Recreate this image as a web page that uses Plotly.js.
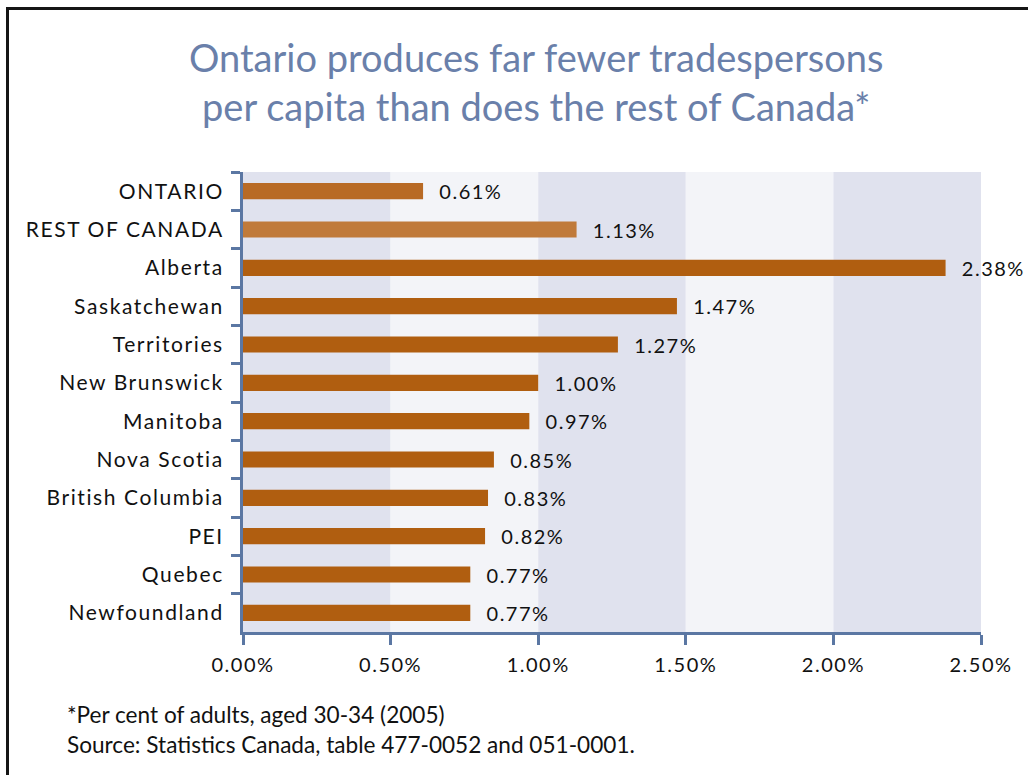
<!DOCTYPE html>
<html>
<head>
<meta charset="utf-8">
<script src="https://cdn.plot.ly/plotly-3.0.1.min.js"></script>
<style>
html,body{margin:0;padding:0;overflow:hidden;background:#fff;}
#chart{position:absolute;left:0;top:0;width:1028px;height:775px;}
#frame{position:absolute;left:6px;top:7px;width:1100px;height:900px;border-top:3px solid #151515;border-left:3px solid #151515;pointer-events:none;}
.ytick text{letter-spacing:1.6px;}
.xtick text{letter-spacing:1.5px;}
.bartext{letter-spacing:1.5px;}
</style>
</head>
<body>
<div id="chart"></div>
<div id="frame"></div>
<script>
const regions = ["ONTARIO","REST OF CANADA","Alberta","Saskatchewan","Territories","New Brunswick","Manitoba","Nova Scotia","British Columbia","PEI","Quebec","Newfoundland"];
const shares = [0.61,1.13,2.38,1.47,1.27,1.00,0.97,0.85,0.83,0.82,0.77,0.77];
const barColors = ["#b86a25","#c07a3a","#b05e10","#b05e10","#b05e10","#b05e10","#b05e10","#b05e10","#b05e10","#b05e10","#b05e10","#b05e10"];
const bandEdges = [0,0.5,1,1.5,2,2.5];
const bandColors = ["#e0e2ee","#f3f4f8","#e0e2ee","#f3f4f8","#e0e2ee"];
const tickVals = [0,0.5,1,1.5,2,2.5];
const titleText = "Ontario produces far fewer tradespersons<br>per capita than does the rest of Canada*";
const noteLines = ["*Per cent of adults, aged 30-34 (2005)","Source: Statistics Canada, table 477-0052 and 051-0001."];

const font = "Lato, 'Open Sans', sans-serif";
const axisColor = "#5b77a3";

const shapes = bandColors.map((c,i)=>({
  type:"rect", xref:"x", yref:"paper", x0:bandEdges[i], x1:bandEdges[i+1], y0:0, y1:1,
  fillcolor:c, line:{width:0}, layer:"below"
}));

const trace = {
  type:"bar", orientation:"h", y:regions, x:shares,
  marker:{color:barColors}, width:0.42,
  text:shares.map(v=>"\u00a0\u00a0"+v.toFixed(2)+"%"), textposition:"outside", constraintext:"none",
  textfont:{family:font,size:20,color:"#111"}, cliponaxis:false,
  hoverinfo:"skip"
};

const layout = {
  width:1028, height:775,
  margin:{l:243,r:47,t:172,b:143},
  paper_bgcolor:"rgba(0,0,0,0)", plot_bgcolor:"rgba(0,0,0,0)",
  showlegend:false,
  xaxis:{range:[0,2.5], tickvals:tickVals, ticktext:tickVals.map(v=>v.toFixed(2)+"%"),
    showgrid:false, zeroline:false, showline:true, linecolor:axisColor, linewidth:3,
    ticks:"outside", ticklen:10, tickwidth:3, tickcolor:axisColor, ticklabelstandoff:3,
    tickfont:{family:font,size:20,color:"#111"}, fixedrange:true},
  yaxis:{type:"category", autorange:"reversed", showgrid:false, zeroline:false,
    showline:true, linecolor:axisColor, linewidth:3,
    ticks:"outside", tickson:"boundaries", ticklen:9, tickwidth:3, tickcolor:axisColor,
    tickfont:{family:font,size:21,color:"#111"}, ticklabelstandoff:12, fixedrange:true},
  shapes:shapes,
  annotations:[{
    text:titleText, xref:"paper", yref:"paper", x:0.398, y:1.1957, xanchor:"center", yanchor:"middle",
    showarrow:false, align:"center", font:{family:font,size:38,color:"#6a80aa"}
  }].concat(noteLines.map((t,i)=>({
    text:t, xref:"paper", yref:"paper", x:-0.241, y:-0.179 - i*0.065, xanchor:"left", yanchor:"middle",
    showarrow:false, font:{family:font,size:22.6,color:"#111"}
  })))
};

Plotly.newPlot("chart",[trace],layout,{staticPlot:true});
</script>
</body>
</html>
